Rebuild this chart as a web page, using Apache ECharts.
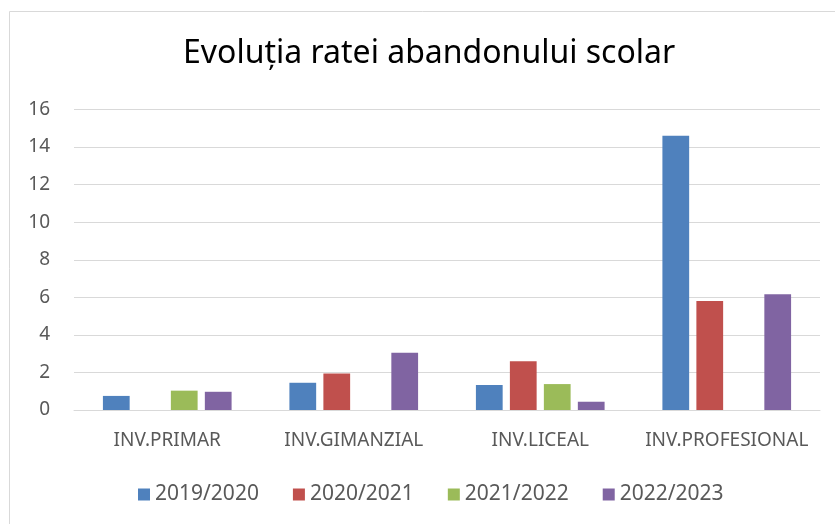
<!DOCTYPE html>
<html>
<head>
<meta charset="utf-8">
<script src="https://cdn.jsdelivr.net/npm/echarts@6/dist/echarts.min.js"></script>
<style>
html, body { margin: 0; padding: 0; background: #fff; }
#chartmain { width: 835px; height: 524px; }
</style>
</head>
<body>
<div id="chartmain"></div>
<script>
var categories = ['INV.PRIMAR', 'INV.GIMANZIAL', 'INV.LICEAL', 'INV.PROFESIONAL'];
var seriesNames = ['2019/2020', '2020/2021', '2021/2022', '2022/2023'];
var v2019 = [0.75, 1.45, 1.33, 14.6];
var v2020 = ['-', 1.95, 2.59, 5.8];
var v2021 = [1.03, '-', 1.38, '-'];
var v2022 = [0.97, 3.05, 0.44, 6.16];
var yTicks = [0, 2, 4, 6, 8, 10, 12, 14, 16];

var colors = ['#4F81BD', '#C0504D', '#9BBB59', '#8064A2'];
var allValues = [v2019, v2020, v2021, v2022];

// 基于准备好的dom，初始化echarts实例
var myChart = echarts.init(document.getElementById('chartmain'));

var series = [];
for (var i = 0; i < seriesNames.length; i++) {
	series.push({
		name: seriesNames[i],
		type: 'bar',
		data: allValues[i],
		barGap: '27%',
		barCategoryGap: '31%',
		itemStyle: { color: colors[i] }
	});
}

var option = {
	animation: false,
	color: colors,
	textStyle: { fontFamily: 'Noto Sans' },
	title: {
		text: 'Evoluția ratei abandonului scolar',
		left: 178,
		top: 33,
		textStyle: { fontFamily: 'Noto Sans', fontSize: 32, fontWeight: 'normal', color: '#000' }
	},
	legend: {
		data: seriesNames,
		bottom: 14,
		left: 133,
		itemWidth: 12,
		itemHeight: 12,
		itemGap: 34,
		icon: 'rect',
		textStyle: { fontSize: 21, color: '#595959' }
	},
	grid: { left: 74, right: 15, top: 109.5, bottom: 114 },
	xAxis: {
		type: 'category',
		data: categories,
		axisTick: { show: false },
		axisLine: { lineStyle: { color: '#d9d9d9', width: 1 } },
		axisLabel: { color: '#595959', fontSize: 19, margin: 21, interval: 0 }
	},
	yAxis: {
		type: 'value',
		min: yTicks[0],
		max: yTicks[yTicks.length - 1],
		interval: 2,
		axisLine: { show: false },
		axisTick: { show: false },
		axisLabel: { color: '#595959', fontSize: 19, margin: 24 },
		splitLine: { lineStyle: { color: '#d9d9d9', width: 1 } }
	},
	graphic: [{
		type: 'rect',
		shape: { x: 9.5, y: 11.5, width: 900, height: 600 },
		style: { fill: 'none', stroke: '#d9d9d9', lineWidth: 1 },
		silent: true
	}],
	series: series
};

// 使用刚指定的配置项和数据显示图表。
myChart.setOption(option);
</script>
</body>
</html>
